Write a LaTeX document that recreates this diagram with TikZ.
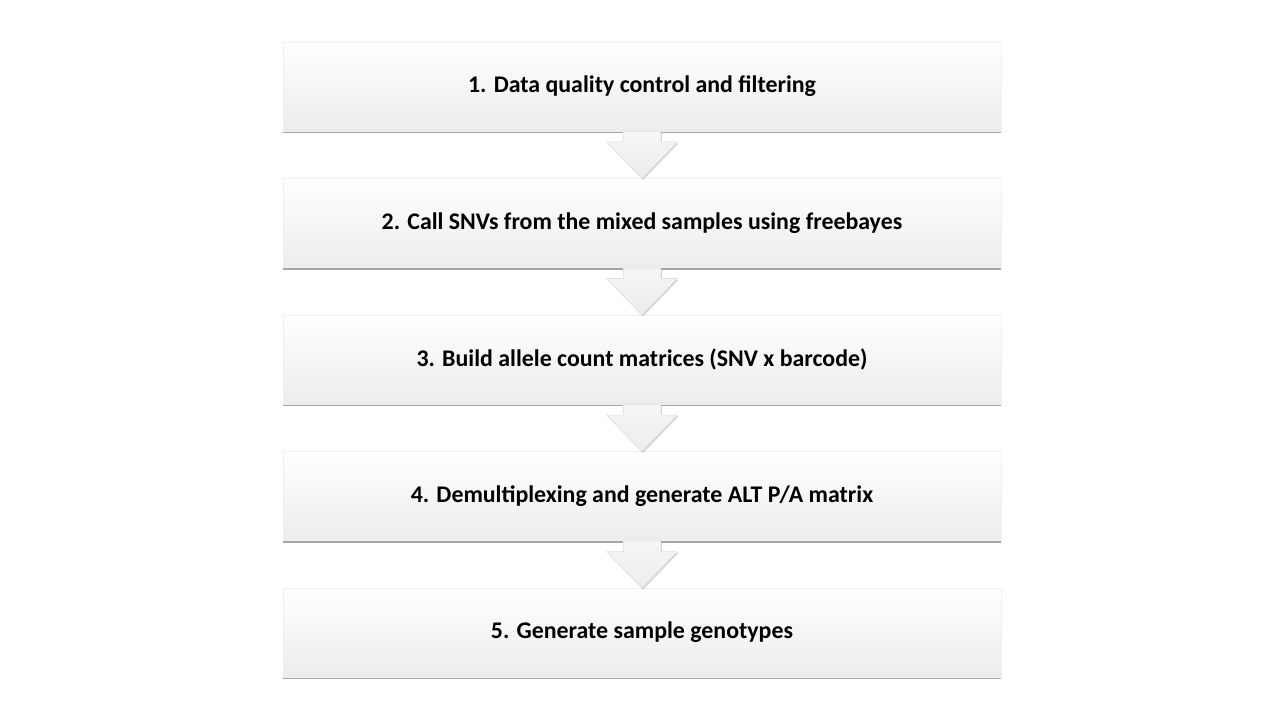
\documentclass[tikz,border=0pt]{standalone}
\usepackage{fontspec}
\setmainfont{Carlito}
\usepackage{tikz}
\usetikzlibrary {positioning}
\usetikzlibrary {shapes.arrows}
\usetikzlibrary {shadows}

\tikzset{
	stepbox/.style={rectangle, draw=gray!12, top color=white, bottom color=gray!15,
		minimum width=538.5pt, minimum height=66.75pt, inner sep=0pt,
		font=\fontsize{17.9}{21}\selectfont\bfseries,
		drop shadow={shadow xshift=0pt, shadow yshift=-1.5pt, opacity=0.7, fill=gray}},
	flowarrow/.style={single arrow, shape border rotate=270, draw=gray!25,
		top color=gray!7, bottom color=gray!15, inner xsep=13.875pt, inner ysep=0pt,
		minimum height=35.25pt, single arrow head extend=12.4pt,
		single arrow tip angle=88,
		drop shadow={shadow xshift=0.8pt, shadow yshift=-1pt, opacity=0.35, fill=gray}}
}

\begin{document}
\begin{tikzpicture}[x=0.75pt, y=-0.75pt]
	\useasboundingbox[fill=white] (0,0) rectangle (1280,720);
	\node[stepbox] (step1) at (642,86.5) {1. Data quality control and filtering};
	\node[stepbox, below=35.25pt of step1] (step2) {2. Call SNVs from the mixed samples using freebayes};
	\node[stepbox, below=35.25pt of step2] (step3) {3. Build allele count matrices (SNV x barcode)};
	\node[stepbox, below=35.25pt of step3] (step4) {4. Demultiplexing and generate ALT P/A matrix};
	\node[stepbox, below=35.25pt of step4] (step5) {5. Generate sample genotypes};
	% arrows between the steps
	\foreach \a in {1,...,4}
		\node[flowarrow, below=0pt of step\a] (arrow\a) {};
\end{tikzpicture}
\end{document}
